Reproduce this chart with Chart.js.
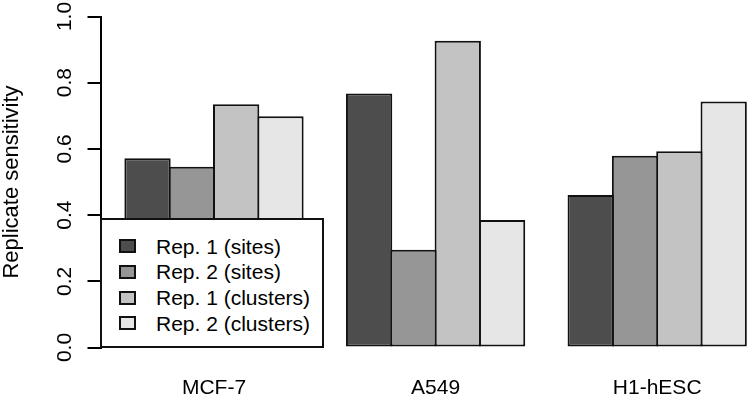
<!DOCTYPE html>
<html>
<head>
<meta charset="utf-8">
<script src="https://cdn.jsdelivr.net/npm/chart.js@4.4.1/dist/chart.umd.min.js"></script>
<style>
  html, body { margin: 0; padding: 0; background: #fff; overflow: hidden; }
  #wrap { position: relative; width: 750px; height: 397px; }
  #legend {
    position: absolute; left: 99.5px; top: 217.5px; width: 224px; height: 130px;
    box-sizing: border-box; border: 2px solid #111; background: #fff;
    font-family: 'Liberation Sans', Arial, sans-serif; font-size: 21px; color: #000;
  }
  .row { position: absolute; left: 0; height: 26px; }
  .sw { position: absolute; left: 17.5px; width: 17px; height: 14px; box-sizing: border-box; border: 2px solid #111; }
  .lbl { position: absolute; left: 54.5px; white-space: nowrap; line-height: 26px; top: 0; }
</style>
</head>
<body>
<div id="wrap">
  <canvas id="c" width="750" height="397"></canvas>
  <div id="legend"></div>
</div>
<script>
// ---- data ----
const categories = ['MCF-7', 'A549', 'H1-hESC'];
const seriesNames = ['Rep. 1 (sites)', 'Rep. 2 (sites)', 'Rep. 1 (clusters)', 'Rep. 2 (clusters)'];
const rep1Sites    = [0.572, 0.767, 0.461];
const rep2Sites    = [0.546, 0.295, 0.579];
const rep1Clusters = [0.735, 0.927, 0.593];
const rep2Clusters = [0.699, 0.385, 0.743];
const yTickValues  = [0.0, 0.2, 0.4, 0.6, 0.8, 1.0];
const yTitle = 'Replicate sensitivity';

// ---- styles ----
const barColors = ['#4D4D4D', '#969696', '#C3C3C3', '#E6E6E6'];
const edge = '#111111';
const FONT = "'Liberation Sans', Arial, sans-serif";

const seriesValues = [rep1Sites, rep2Sites, rep1Clusters, rep2Clusters];

const datasets = seriesValues.map((vals, s) => ({
  label: seriesNames[s],
  data: vals.map((v, i) => ({ x: i + 1, y: v })),
  backgroundColor: barColors[s],
  borderColor: edge,
  borderWidth: 2,
  borderSkipped: false,
  inflateAmount: 0,
  categoryPercentage: 0.8,
  barPercentage: 1.045   // adjacent bars share one outline, as in R's barplot
}));

Chart.defaults.color = '#000';
Chart.defaults.font.family = FONT;

new Chart(document.getElementById('c'), {
  type: 'bar',
  data: { datasets },
  options: {
    responsive: false,
    animation: false,
    devicePixelRatio: 1,
    layout: { padding: { top: 16.5, left: 0, right: 0, bottom: 0 } },
    plugins: { legend: { display: false }, tooltip: { enabled: false } },
    scales: {
      x: {
        type: 'linear',
        offset: false,
        min: 0.4878,
        max: 3.4188,
        grid: { display: false, drawTicks: false },
        border: { display: false },
        afterBuildTicks: s => { s.ticks = categories.map((_, i) => ({ value: i + 1 })); },
        ticks: {
          padding: 28,
          maxRotation: 0, minRotation: 0, autoSkip: false,
          font: { size: 21, family: FONT },
          callback: (v) => categories[Math.round(v) - 1]
        },
        afterFit: s => { s.height = 49.5; s.paddingLeft = 0; s.paddingRight = 0; }
      },
      y: {
        min: 0, max: 1,
        grid: { drawOnChartArea: false, drawTicks: true, tickLength: 13, color: '#000', lineWidth: 2 },
        border: { display: true, color: '#000', width: 2 },
        afterBuildTicks: s => { s.ticks = yTickValues.map(v => ({ value: v })); },
        ticks: {
          minRotation: 90, maxRotation: 90,
          crossAlign: 'center',
          padding: 7.9,
          font: { size: 21, family: FONT },
          callback: v => Number(v).toFixed(1)
        },
        title: {
          display: true, text: yTitle,
          font: { size: 22, family: FONT, lineHeight: 1 },
          padding: { top: 0.5, bottom: 0 }
        },
        afterFit: s => { s.width = 100.5; s.paddingTop = 0; s.paddingBottom = 0; }
      }
    }
  }
});

// HTML legend built from the series names and colours
const leg = document.getElementById('legend');
seriesNames.forEach((name, i) => {
  const row = document.createElement('div');
  row.className = 'row';
  row.style.top = (14 + i * 25.8) + 'px';
  const sw = document.createElement('div');
  sw.className = 'sw';
  sw.style.background = barColors[i];
  sw.style.top = '5.5px';
  const lbl = document.createElement('span');
  lbl.className = 'lbl';
  lbl.textContent = name;
  row.appendChild(sw);
  row.appendChild(lbl);
  leg.appendChild(row);
});
</script>
</body>
</html>
